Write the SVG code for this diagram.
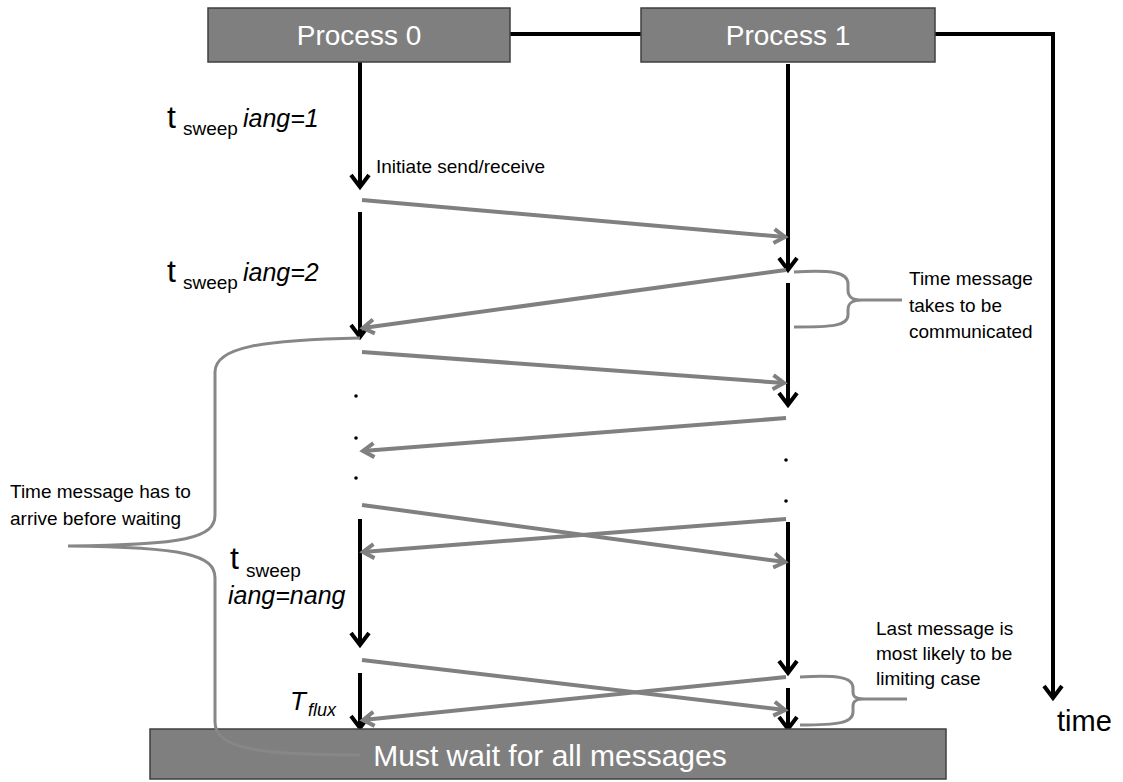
<svg xmlns="http://www.w3.org/2000/svg" width="1123" height="782" viewBox="0 0 1123 782">
<style>
.box{fill:#7f7f7f;stroke:#3f3f3f;stroke-width:1.5}
.boxtxt{font-family:"Liberation Sans",Arial,sans-serif;fill:#fff;text-anchor:middle}
.lbl{font-family:"Liberation Sans",Arial,sans-serif;fill:#000}
.tl{stroke:#000;stroke-width:4;fill:none}
.msg{stroke:#808080;stroke-width:4;fill:none}
.brace{stroke:#878787;stroke-width:3;fill:none}
.it{font-style:italic}
</style>
<defs>
<marker id="ab" markerUnits="userSpaceOnUse" markerWidth="30" markerHeight="30" refX="13" refY="10" orient="auto" overflow="visible">
<path d="M1,1 L13,10 L1,19" fill="none" stroke="#000" stroke-width="4"/>
</marker>
<marker id="ag" markerUnits="userSpaceOnUse" markerWidth="30" markerHeight="30" refX="12" refY="8" orient="auto" overflow="visible">
<path d="M1,1 L12,8 L1,15" fill="none" stroke="#808080" stroke-width="4"/>
</marker>
</defs>
<rect width="1123" height="782" fill="#fff"/>

<g id="connectors">
<path class="tl" d="M510,34 L641,34"/>
<path class="tl" d="M935,34 L1053,34 L1053,698" marker-end="url(#ab)"/>
<path class="tl" d="M360,62 L360,187" marker-end="url(#ab)"/>
<path class="tl" d="M360,212 L360,337" marker-end="url(#ab)"/>
<path class="tl" d="M360,519 L360,645" marker-end="url(#ab)"/>
<path class="tl" d="M360,673 L360,728" marker-end="url(#ab)"/>
<path class="tl" d="M788,64 L788,270" marker-end="url(#ab)"/>
<path class="tl" d="M788,283 L788,405" marker-end="url(#ab)"/>
<path class="tl" d="M788,522 L788,673" marker-end="url(#ab)"/>
<path class="tl" d="M788,688 L788,729" marker-end="url(#ab)"/>
<path class="msg" d="M362,200 L785,237" marker-end="url(#ag)"/>
<path class="msg" d="M786,270 L363,328" marker-end="url(#ag)"/>
<path class="msg" d="M362,352 L784,383" marker-end="url(#ag)"/>
<path class="msg" d="M786,418 L363,451" marker-end="url(#ag)"/>
<path class="msg" d="M362,505 L785,562" marker-end="url(#ag)"/>
<path class="msg" d="M786,519 L363,552" marker-end="url(#ag)"/>
<path class="msg" d="M362,660 L785,710" marker-end="url(#ag)"/>
<path class="msg" d="M786,677 L363,720" marker-end="url(#ag)"/>
<g fill="#000">
<circle cx="356" cy="396" r="1.8"/>
<circle cx="356" cy="438" r="1.8"/>
<circle cx="356" cy="478" r="1.8"/>
<circle cx="786" cy="460" r="1.8"/>
<circle cx="786" cy="501" r="1.8"/>
</g>
</g>

<g id="process0">
<rect class="box" x="208" y="8" width="302" height="54"/>
<text class="boxtxt" x="359" y="45" font-size="28">Process 0</text>
</g>
<g id="process1">
<rect class="box" x="641" y="8" width="294" height="54"/>
<text class="boxtxt" x="788" y="45" font-size="28">Process 1</text>
</g>
<g id="barrier">
<rect class="box" x="150" y="729" width="796" height="50"/>
<text class="boxtxt" x="550" y="766" font-size="30">Must wait for all messages</text>
</g>

<g id="braces">
<path class="brace" d="M794,272 C832,270 848,272 848,284 L848,290 C848,297 852,300 862,300 L902,300 M862,300 C852,300 848,303 848,310 L848,315 C848,326 832,327 794,327"/>
<path class="brace" d="M800,677 C838,675 853,677 853,688 L853,692 C853,697 856,699 864,699 L907,699 M864,699 C856,699 853,701 853,706 L853,712 C853,723 838,725 800,725"/>
<path class="brace" d="M360,338 C262,340 215,347 215,372 L215,515 C215,538 185,545 68,546 M68,546 C185,547 215,555 215,578 L215,722 C215,748 255,755 360,755"/>
</g>

<g id="labels">
<text class="lbl" x="376" y="173" font-size="19">Initiate send/receive</text>
<text class="lbl" font-size="32" x="167" y="128">t</text>
<text class="lbl" font-size="19" x="183" y="135">sweep</text>
<text class="lbl it" font-size="25" x="243" y="127">iang=1</text>
<text class="lbl" font-size="32" x="167" y="282">t</text>
<text class="lbl" font-size="19" x="183" y="289">sweep</text>
<text class="lbl it" font-size="25" x="243" y="281">iang=2</text>
<text class="lbl" font-size="32" x="230" y="569">t</text>
<text class="lbl" font-size="19" x="246" y="577">sweep</text>
<text class="lbl it" font-size="25" x="228" y="604">iang=nang</text>
<text class="lbl it" font-size="26" x="290" y="710">T</text>
<text class="lbl it" font-size="18" x="308" y="716">flux</text>
<text class="lbl" font-size="19" x="909" y="285">Time message</text>
<text class="lbl" font-size="19" x="909" y="312">takes to be</text>
<text class="lbl" font-size="19" x="909" y="338">communicated</text>
<text class="lbl" font-size="19" x="876" y="635">Last message is</text>
<text class="lbl" font-size="19" x="876" y="660">most likely to be</text>
<text class="lbl" font-size="19" x="876" y="685">limiting case</text>
<text class="lbl" font-size="19" x="10" y="498">Time message has to</text>
<text class="lbl" font-size="19" x="10" y="525">arrive before waiting</text>
<text class="lbl" font-size="29" x="1057" y="731">time</text>
</g>
</svg>
